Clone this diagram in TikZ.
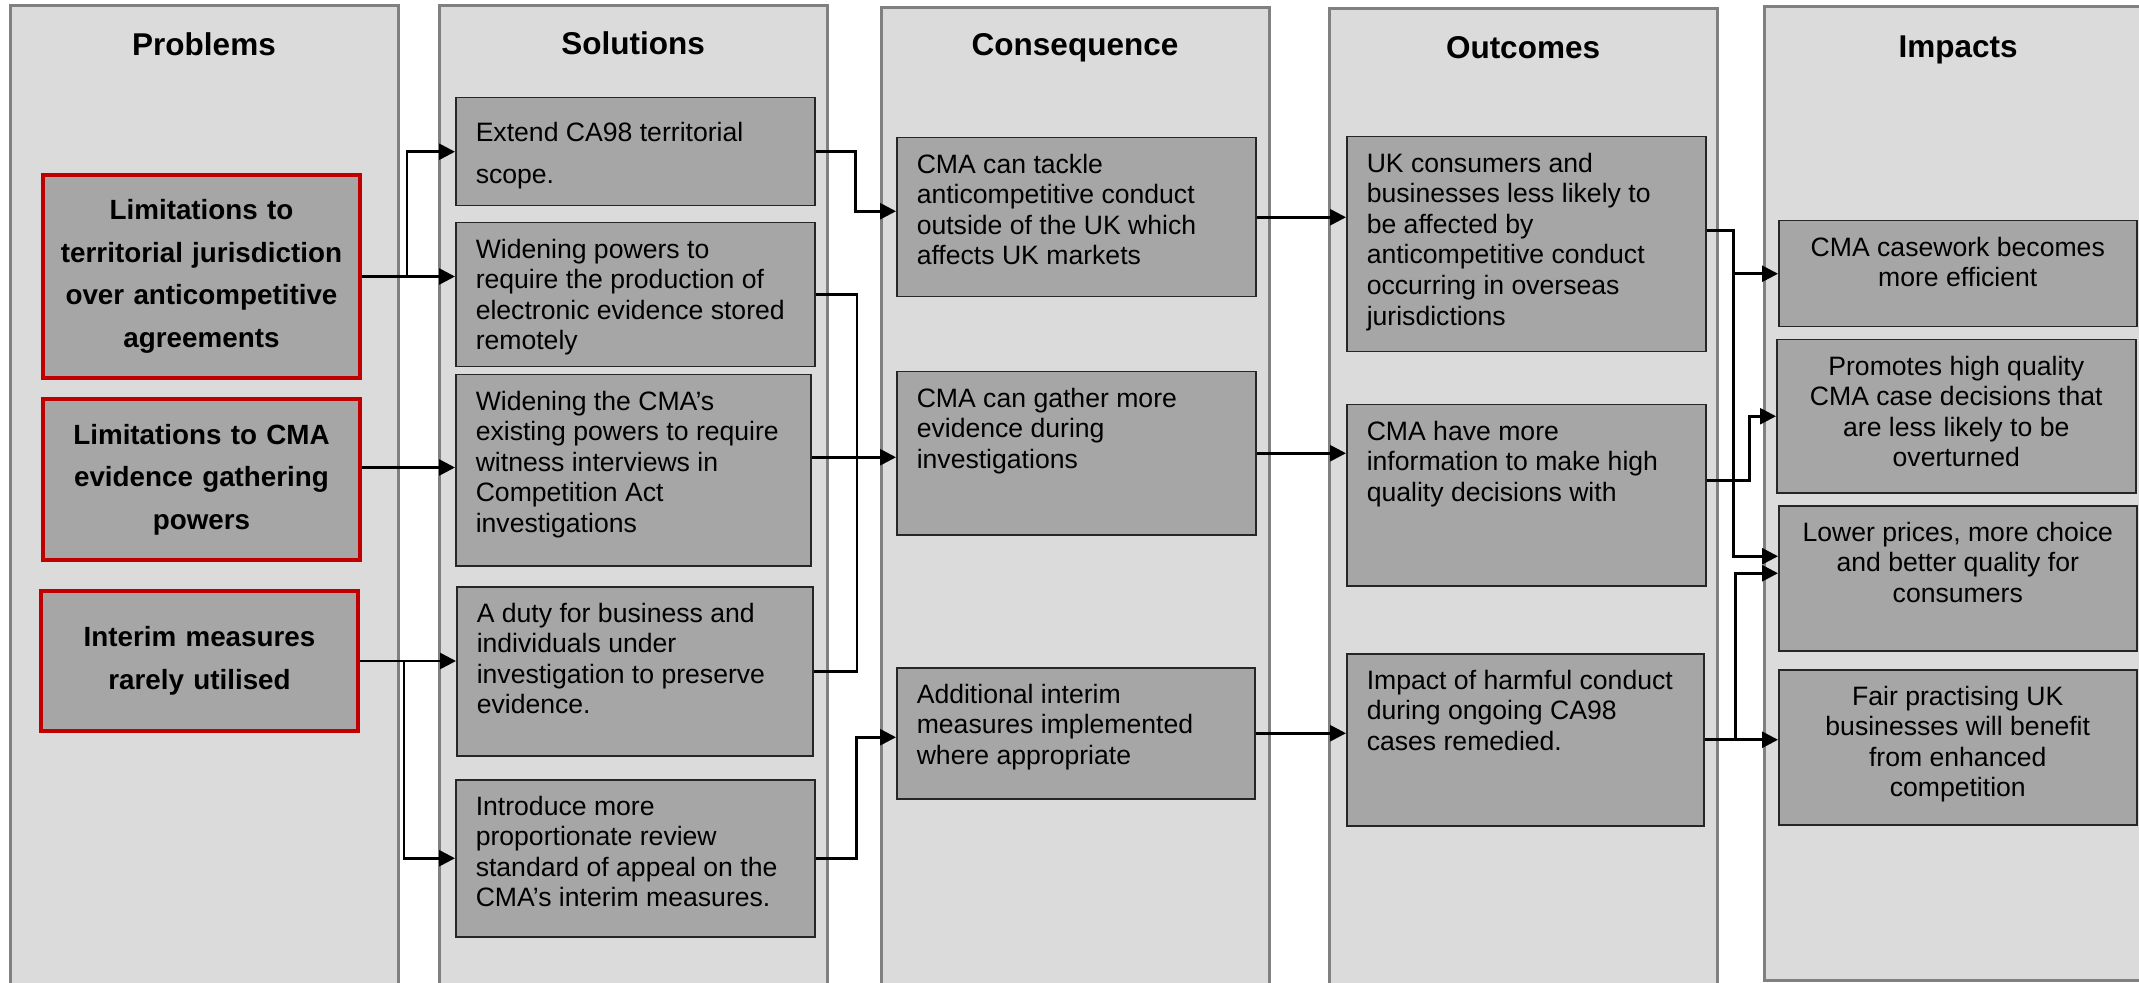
\documentclass[tikz,border=0pt]{standalone}
\usepackage{fontspec}
\setmainfont{Liberation Sans}
\usetikzlibrary{arrows.meta}

\begin{document}
\begin{tikzpicture}[x=0.5pt, y=-0.5pt,
  col/.style={fill=col area, draw=col edge, line width=1.5pt},
  head/.style={font=\fontsize{15.75}{18}\selectfont\bfseries, anchor=base},
  cell/.style={fill=box area, draw=box edge, line width=0.75pt, inner xsep=10pt, inner ysep=7pt, anchor=north west, font=\fontsize{13.3}{15.3}\selectfont},
  cellwide/.style={cell, font=\fontsize{13.3}{21}\selectfont},
  prob/.style={fill=box area, draw=prob edge, line width=2pt, minimum width=158.5pt, text width=148pt, align=center, font=\fontsize{13.9}{21.3}\selectfont\bfseries},
  wire/.style={line width=1.3pt},
  arr/.style={wire, -{Triangle[length=8pt,width=8pt]}}]
\def\cell#1#2#3#4#5#6#7{\node[#1] (#2) at (#3,#4) {\parbox[c][\dimexpr#6pt/2-14pt\relax][t]{\dimexpr#5pt/2-20pt\relax}{\raggedright\strut#7}};}

\definecolor{col area}{gray}{0.86}
\definecolor{col edge}{gray}{0.5}
\definecolor{box area}{gray}{0.65}
\definecolor{box edge}{gray}{0.15}
\definecolor{prob edge}{RGB}{192,0,0}

\useasboundingbox (0,0) rectangle (2139,983);

\foreach \xc/\yc/\yb/\colname/\yh in {10/6/1000/Problems/56, 439/6/1000/Solutions/55, 881/8/1000/Consequence/56, 1329/9/1000/Outcomes/59, 1764/7/980/Impacts/58}{
  \draw[col] (\xc,\yc) rectangle (\xc+388,\yb);
  \node[head] (h\colname) at (\xc+194,\yh) {\colname};
}

% problems
\node[prob, minimum height=101.5pt] (lim1) at (201.5,276.5) {Limitations to\\ territorial jurisdiction\\ over anticompetitive\\ agreements};
\node[prob, minimum height=80.5pt] (lim2) at (201.5,479.5) {Limitations to CMA\\ evidence gathering\\ powers};
\node[prob, minimum height=70pt] (lim3) at (199.5,661) {Interim measures\\ rarely utilised};

% solutions
\cell{cellwide}{ext}{455}{97}{359}{108}{Extend CA98 territorial\\ scope.}
\cell{cell}{wide1}{455}{222}{359}{144}{Widening powers to\\ require the production of\\ electronic evidence stored\\ remotely}
\cell{cell}{wide2}{455}{374}{355}{191}{Widening the CMA’s\\ existing powers to require\\ witness interviews in\\ Competition Act\\ investigations}
\cell{cell}{duty}{456}{586}{356}{169}{A duty for business and\\ individuals under\\ investigation to preserve\\ evidence.}
\cell{cell}{rev}{455}{779}{359}{157}{Introduce more\\ proportionate review\\ standard of appeal on the\\ CMA’s interim measures.}

% consequence
\cell{cell}{tackle}{896}{137}{359}{159}{CMA can tackle\\ anticompetitive conduct\\ outside of the UK which\\ affects UK markets}
\cell{cell}{gather}{896}{371}{359}{163}{CMA can gather more\\ evidence during\\ investigations}
\cell{cell}{addint}{896}{667}{358}{131}{Additional interim\\ measures implemented\\ where appropriate}

% outcomes
\cell{cell}{ukcon}{1346}{136}{359}{215}{UK consumers and\\ businesses less likely to\\ be affected by\\ anticompetitive conduct\\ occurring in overseas\\ jurisdictions}
\cell{cell}{info}{1346}{404}{359}{181}{CMA have more\\ information to make high\\ quality decisions with}
\cell{cell}{harm}{1346}{653}{357}{172}{Impact of harmful conduct\\ during ongoing CA98\\ cases remedied.}

% impacts
\cell{cell}{eff}{1778}{220}{358}{106}{\centering CMA casework becomes\\ more efficient}
\cell{cell}{qual}{1776}{339}{359}{153}{\centering Promotes high quality\\ CMA case decisions that\\ are less likely to be\\ overturned}
\cell{cell}{price}{1778}{505}{358}{145}{\centering Lower prices, more choice\\ and better quality for\\ consumers}
\cell{cell}{fair}{1778}{669}{358}{155}{\centering Fair practising UK\\ businesses will benefit\\ from enhanced\\ competition}

% problems -> solutions
\draw[arr] (lim1.east) -- (lim1.east -| wide1.west);
\draw[arr] (lim1.east) -- ++(45,0) |- (ext.west);
\draw[arr] ([yshift=6pt]lim2.east) -- ([yshift=6pt]lim2.east -| wide2.west);
\draw[arr] (lim3.east) -- (lim3.east -| duty.west);
\draw[arr] (lim3.east) -- ++(44,0) |- (rev.west);

% solutions -> consequence
\draw[arr] (ext.east) -- ++(40,0) |- ([yshift=3pt]tackle.west);
\path ([yshift=-2pt]gather.west) ++(-39,0) coordinate (jg);
\draw[wire] (wide1.east) -| (jg);
\draw[wire] (duty.east) -| (jg);
\draw[arr] (wide2.east |- jg) -- (jg -| gather.west);
\draw[arr] (rev.east) -- ++(41,0) |- ([yshift=-2pt]addint.west);

% consequence -> outcomes
\draw[arr] (tackle.east) -- (tackle.east -| ukcon.west);
\draw[arr] (gather.east) -- (gather.east -| info.west);
\draw[arr] (addint.east) -- (addint.east -| harm.west);

% outcomes -> impacts
\draw[arr] ([yshift=7pt]ukcon.east) -- ++(27,0) |- (eff.west);
\draw[arr] ([yshift=7pt]ukcon.east) -- ++(27,0) |- ([yshift=11pt]price.west);
\draw[arr] ([yshift=7.5pt]info.east) -- ++(43,0) |- (qual.west);
\draw[arr] (harm.east) -- ++(31,0) |- ([yshift=2.5pt]price.west);
\draw[arr] (harm.east) -- (harm.east -| fair.west);
\end{tikzpicture}
\end{document}
